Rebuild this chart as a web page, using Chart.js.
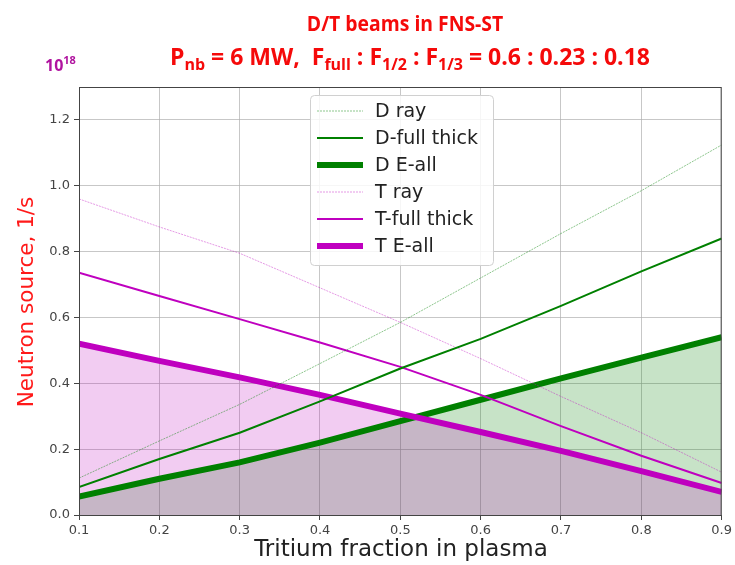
<!DOCTYPE html>
<html>
<head>
<meta charset="utf-8">
<title>D/T beams in FNS-ST</title>
<script src="https://cdn.jsdelivr.net/npm/chart.js@4.4.1/dist/chart.umd.min.js"></script>
<style>
  html, body { margin: 0; padding: 0; background: #fff; }
  #wrap { width: 735px; height: 565px; }
</style>
</head>
<body>
<div id="wrap"><canvas id="chart" width="735" height="565"></canvas></div>
<script>
const tritiumFraction = [0.1, 0.2, 0.3, 0.4, 0.5, 0.6, 0.7, 0.8, 0.9];

const dRay        = [0.112, 0.225, 0.336, 0.46, 0.585, 0.72, 0.855, 0.985, 1.124];
const dFullThick  = [0.085, 0.17, 0.25, 0.345, 0.445, 0.535, 0.635, 0.74, 0.84];
const dEAll       = [0.056, 0.11, 0.16, 0.22, 0.285, 0.35, 0.415, 0.478, 0.54];
const tRay        = [0.96, 0.875, 0.795, 0.69, 0.585, 0.475, 0.36, 0.25, 0.13];
const tFullThick  = [0.736, 0.665, 0.595, 0.524, 0.45, 0.365, 0.27, 0.18, 0.097];
const tEAll       = [0.52, 0.468, 0.418, 0.365, 0.308, 0.252, 0.195, 0.133, 0.07];

const xTicks = [0.1, 0.2, 0.3, 0.4, 0.5, 0.6, 0.7, 0.8, 0.9];
const yTicks = [0.0, 0.2, 0.4, 0.6, 0.8, 1.0, 1.2];

const GREEN = '#008000';
const MAGENTA = '#bf00bf';

function points(ys) {
    return ys.map((y, i) => ({ x: tritiumFraction[i], y: y }));
}

// order: the green fill goes down first so the magenta fill tints it
const datasets = [
    { label: 'D ray', data: points(dRay), borderColor: 'rgba(0,128,0,0.45)', borderWidth: 1, borderDash: [2, 1], fill: false, order: 0 },
    { label: 'D-full thick', data: points(dFullThick), borderColor: GREEN, borderWidth: 2, fill: false, order: 0 },
    { label: 'D E-all', data: points(dEAll), borderColor: GREEN, borderWidth: 6, fill: 'origin', backgroundColor: 'rgba(0,128,0,0.22)', order: 2 },
    { label: 'T ray', data: points(tRay), borderColor: 'rgba(191,0,191,0.4)', borderWidth: 1, borderDash: [2, 1], fill: false, order: 0 },
    { label: 'T-full thick', data: points(tFullThick), borderColor: MAGENTA, borderWidth: 2, fill: false, order: 0 },
    { label: 'T E-all', data: points(tEAll), borderColor: MAGENTA, borderWidth: 6, fill: 'origin', backgroundColor: 'rgba(191,0,191,0.2)', order: 1 }
];

// text runs with subscripts for the second title line
const subtitleRuns = [
    ['P', false], ['nb', true], [' = 6 MW,  F', false], ['full', true],
    [' : F', false], ['1/2', true], [' : F', false], ['1/3', true],
    [' = 0.6 : 0.23 : 0.18', false]
];

const decorations = {
    id: 'decorations',
    afterDatasetsDraw(chart) {
        const ctx = chart.ctx;
        const a = chart.chartArea;
        ctx.save();
        // frame on all four sides
        ctx.strokeStyle = '#444';
        ctx.lineWidth = 1;
        ctx.strokeRect(a.left + 0.5, a.top + 0.5, a.right - a.left - 1, a.bottom - a.top);

        // legend box
        const bx = 310, by = 95, bw = 183, bh = 170;
        ctx.beginPath();
        ctx.roundRect(bx + 0.5, by + 0.5, bw, bh, 4);
        ctx.fillStyle = 'rgba(255,255,255,0.85)';
        ctx.fill();
        ctx.strokeStyle = '#d0d0d0';
        ctx.stroke();
        ctx.font = '19px "DejaVu Sans"';
        ctx.textBaseline = 'middle';
        chart.data.datasets.forEach((ds, i) => {
            const y = 111 + i * 27;
            ctx.beginPath();
            ctx.setLineDash(ds.borderDash || []);
            ctx.strokeStyle = ds.borderColor;
            ctx.lineWidth = ds.borderWidth;
            ctx.moveTo(317, y);
            ctx.lineTo(363, y);
            ctx.stroke();
            ctx.setLineDash([]);
            ctx.fillStyle = '#222';
            ctx.fillText(ds.label, 375, y + 1);
        });
        ctx.restore();
    },
    afterDraw(chart) {
        const ctx = chart.ctx;
        ctx.save();
        ctx.fillStyle = '#f50a0a';
        ctx.textBaseline = 'alphabetic';
        ctx.textAlign = 'center';
        ctx.font = 'bold 22px "Open Sans"';
        ctx.save();
        ctx.translate(405, 31);
        ctx.scale(0.88, 1);
        ctx.fillText('D/T beams in FNS-ST', 0, 0);
        ctx.restore();

        // subtitle with subscripts
        const big = 'bold 23px "Open Sans"';
        const small = 'bold 16px "Open Sans"';
        ctx.textAlign = 'left';
        let total = 0;
        subtitleRuns.forEach(([t, sub]) => {
            ctx.font = sub ? small : big;
            total += ctx.measureText(t).width;
        });
        let x = 410 - total / 2;
        subtitleRuns.forEach(([t, sub]) => {
            ctx.font = sub ? small : big;
            ctx.fillText(t, x, sub ? 70 : 65);
            x += ctx.measureText(t).width;
        });

        // exponent label above the y axis
        ctx.fillStyle = '#b0139f';
        ctx.font = 'bold 16px "Open Sans"';
        ctx.fillText('10', 45, 71);
        const w10 = ctx.measureText('10').width;
        ctx.font = 'bold 11px "Open Sans"';
        ctx.fillText('18', 45 + w10, 64);

        // axis titles
        ctx.textAlign = 'center';
        ctx.textBaseline = 'middle';
        ctx.fillStyle = '#222';
        ctx.font = '23px "DejaVu Sans"';
        ctx.fillText('Tritium fraction in plasma', 401, 550);

        ctx.translate(27, 302);
        ctx.rotate(-Math.PI / 2);
        ctx.fillStyle = '#ff1a1a';
        ctx.font = '21.5px "DejaVu Sans"';
        ctx.fillText('Neutron source, 1/s', 0, 0);
        ctx.restore();
    }
};

new Chart(document.getElementById('chart'), {
    type: 'line',
    data: { datasets: datasets },
    options: {
        responsive: false,
        animation: false,
        layout: { padding: { top: 87, right: 10, left: 0, bottom: 0 } },
        elements: {
            point: { radius: 0 },
            line: { tension: 0 }
        },
        datasets: { line: { clip: 0 } },
        plugins: {
            legend: { display: false },
            tooltip: { enabled: false },
            title: { display: false },
            filler: { drawTime: 'beforeDatasetsDraw' }
        },
        scales: {
            x: {
                type: 'linear',
                min: 0.1,
                max: 0.9,
                afterFit(scale) { scale.height = 50; },
                afterBuildTicks(scale) { scale.ticks = xTicks.map(v => ({ value: v })); },
                ticks: {
                    color: '#444',
                    font: { family: 'DejaVu Sans', size: 13 },
                    padding: 3,
                    maxRotation: 0,
                    callback: v => v.toFixed(1)
                },
                grid: { color: 'rgba(175,175,175,0.7)', tickColor: '#444', tickLength: 5 },
                border: { color: '#444' }
            },
            y: {
                min: 0,
                max: 1.3,
                afterFit(scale) { scale.width = 79; },
                afterBuildTicks(scale) { scale.ticks = yTicks.map(v => ({ value: v })); },
                ticks: {
                    color: '#444',
                    font: { family: 'DejaVu Sans', size: 13 },
                    padding: 4,
                    callback: v => v.toFixed(1)
                },
                grid: { color: 'rgba(175,175,175,0.7)', tickColor: '#444', tickLength: 5 },
                border: { color: '#444' }
            }
        }
    },
    plugins: [decorations]
});
</script>
</body>
</html>
